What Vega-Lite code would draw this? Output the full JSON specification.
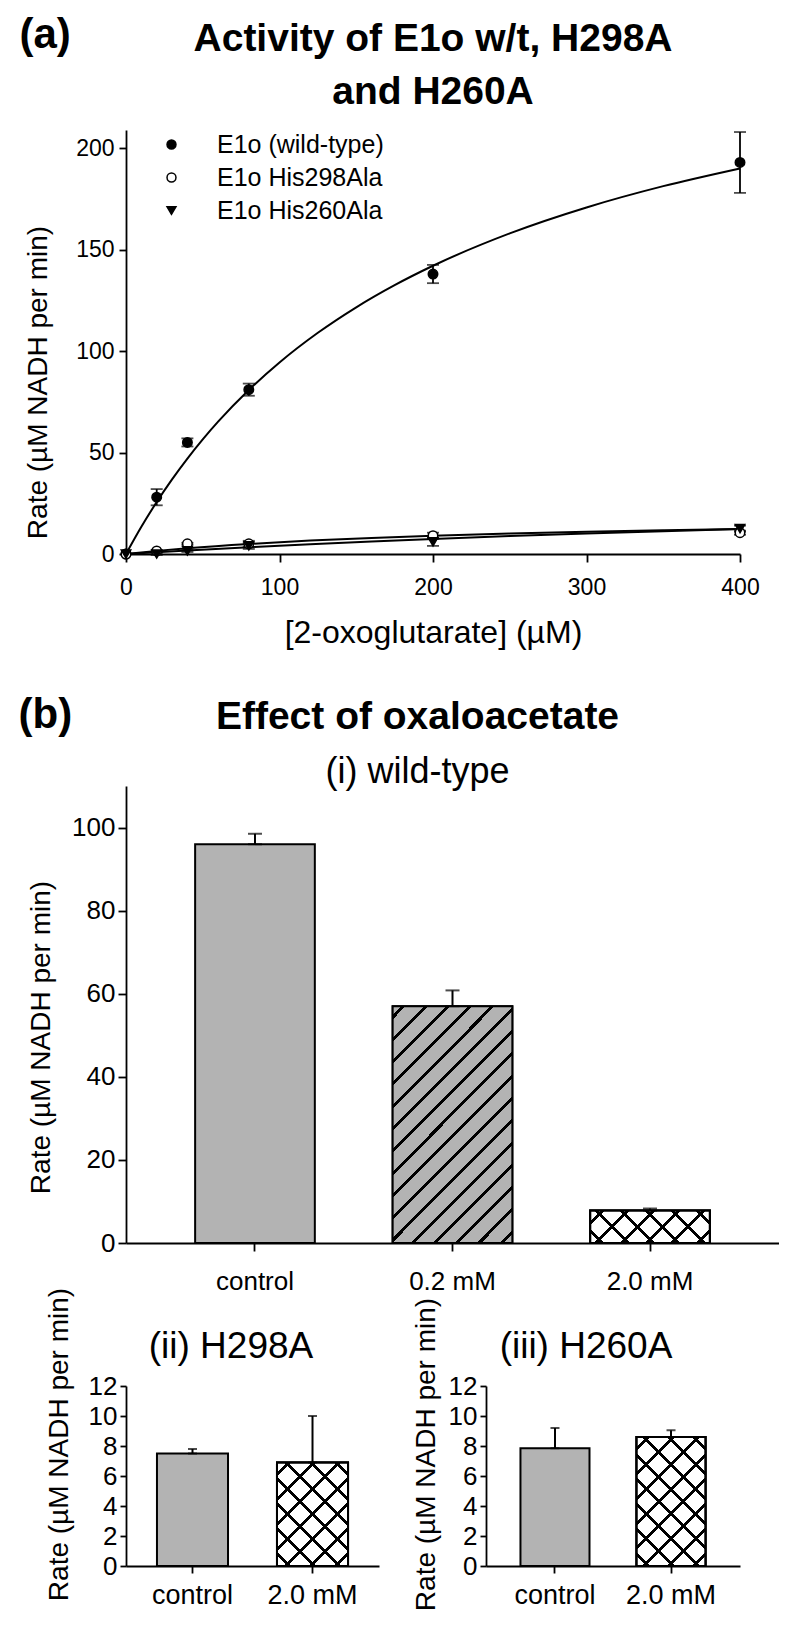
{
  "$schema": "https://vega.github.io/schema/vega-lite/v6.json",
  "background": "white",
  "padding": {"left": 18, "top": 14, "right": 0, "bottom": 0},
  "spacing": 46,
  "config": {
    "view": {"stroke": null},
    "font": "Liberation Sans",
    "axis": {"grid": false, "domainColor": "#000", "domainWidth": 1.8, "tickColor": "#000", "tickWidth": 1.8, "labelColor": "#000", "titleColor": "#000", "titleFontWeight": "normal", "labelFont": "Liberation Sans", "titleFont": "Liberation Sans", "labelFlush": false, "labelOverlap": false},
    "title": {"color": "#000", "subtitleColor": "#000", "font": "Liberation Sans", "subtitleFont": "Liberation Sans"},
    "legend": {"labelColor": "#000"}
  },
  "datasets": {
    "curves": [
      {"enzyme": "E1o (wild-type)", "conc": 0, "fit": 0},
      {"enzyme": "E1o (wild-type)", "conc": 10, "fit": 13.41},
      {"enzyme": "E1o (wild-type)", "conc": 20, "fit": 25.63},
      {"enzyme": "E1o (wild-type)", "conc": 30, "fit": 36.79},
      {"enzyme": "E1o (wild-type)", "conc": 40, "fit": 47.05},
      {"enzyme": "E1o (wild-type)", "conc": 50, "fit": 56.5},
      {"enzyme": "E1o (wild-type)", "conc": 60, "fit": 65.23},
      {"enzyme": "E1o (wild-type)", "conc": 80, "fit": 80.85},
      {"enzyme": "E1o (wild-type)", "conc": 100, "fit": 94.41},
      {"enzyme": "E1o (wild-type)", "conc": 125, "fit": 109.04},
      {"enzyme": "E1o (wild-type)", "conc": 150, "fit": 121.61},
      {"enzyme": "E1o (wild-type)", "conc": 175, "fit": 132.52},
      {"enzyme": "E1o (wild-type)", "conc": 200, "fit": 142.08},
      {"enzyme": "E1o (wild-type)", "conc": 250, "fit": 158.04},
      {"enzyme": "E1o (wild-type)", "conc": 300, "fit": 170.83},
      {"enzyme": "E1o (wild-type)", "conc": 350, "fit": 181.32},
      {"enzyme": "E1o (wild-type)", "conc": 400, "fit": 190.07},
      {"enzyme": "E1o His298Ala", "conc": 0, "fit": 0},
      {"enzyme": "E1o His298Ala", "conc": 20, "fit": 1.54},
      {"enzyme": "E1o His298Ala", "conc": 40, "fit": 2.85},
      {"enzyme": "E1o His298Ala", "conc": 80, "fit": 4.97},
      {"enzyme": "E1o His298Ala", "conc": 120, "fit": 6.61},
      {"enzyme": "E1o His298Ala", "conc": 160, "fit": 7.92},
      {"enzyme": "E1o His298Ala", "conc": 200, "fit": 8.98},
      {"enzyme": "E1o His298Ala", "conc": 250, "fit": 10.06},
      {"enzyme": "E1o His298Ala", "conc": 300, "fit": 10.94},
      {"enzyme": "E1o His298Ala", "conc": 350, "fit": 11.66},
      {"enzyme": "E1o His298Ala", "conc": 400, "fit": 12.27},
      {"enzyme": "E1o His260Ala", "conc": 0, "fit": 0},
      {"enzyme": "E1o His260Ala", "conc": 20, "fit": 0.91},
      {"enzyme": "E1o His260Ala", "conc": 40, "fit": 1.77},
      {"enzyme": "E1o His260Ala", "conc": 80, "fit": 3.38},
      {"enzyme": "E1o His260Ala", "conc": 120, "fit": 4.85},
      {"enzyme": "E1o His260Ala", "conc": 160, "fit": 6.19},
      {"enzyme": "E1o His260Ala", "conc": 200, "fit": 7.42},
      {"enzyme": "E1o His260Ala", "conc": 250, "fit": 8.82},
      {"enzyme": "E1o His260Ala", "conc": 300, "fit": 10.09},
      {"enzyme": "E1o His260Ala", "conc": 350, "fit": 11.25},
      {"enzyme": "E1o His260Ala", "conc": 400, "fit": 12.31}
    ],
    "kinetics": [
      {"enzyme": "E1o (wild-type)", "conc": 0, "rate": 0, "lo": 0, "hi": 0},
      {"enzyme": "E1o (wild-type)", "conc": 20, "rate": 28, "lo": 24, "hi": 32},
      {"enzyme": "E1o (wild-type)", "conc": 40, "rate": 55, "lo": 53, "hi": 57},
      {"enzyme": "E1o (wild-type)", "conc": 80, "rate": 81, "lo": 78, "hi": 84},
      {"enzyme": "E1o (wild-type)", "conc": 200, "rate": 138, "lo": 133.5, "hi": 142.5},
      {"enzyme": "E1o (wild-type)", "conc": 400, "rate": 193, "lo": 178, "hi": 208},
      {"enzyme": "E1o His298Ala", "conc": 0, "rate": 0, "lo": 0, "hi": 0},
      {"enzyme": "E1o His298Ala", "conc": 20, "rate": 1.5, "lo": 1, "hi": 2},
      {"enzyme": "E1o His298Ala", "conc": 40, "rate": 5, "lo": 4.5, "hi": 5.5},
      {"enzyme": "E1o His298Ala", "conc": 80, "rate": 5, "lo": 3.5, "hi": 6.5},
      {"enzyme": "E1o His298Ala", "conc": 200, "rate": 9, "lo": 7.5, "hi": 10.5},
      {"enzyme": "E1o His298Ala", "conc": 400, "rate": 10.5, "lo": 9.5, "hi": 11.5},
      {"enzyme": "E1o His260Ala", "conc": 0, "rate": 0, "lo": 0, "hi": 0},
      {"enzyme": "E1o His260Ala", "conc": 20, "rate": 0, "lo": -0.5, "hi": 0.5},
      {"enzyme": "E1o His260Ala", "conc": 40, "rate": 1.5, "lo": 1, "hi": 2},
      {"enzyme": "E1o His260Ala", "conc": 80, "rate": 4, "lo": 2.5, "hi": 5.5},
      {"enzyme": "E1o His260Ala", "conc": 200, "rate": 6, "lo": 4, "hi": 8},
      {"enzyme": "E1o His260Ala", "conc": 400, "rate": 12.5, "lo": 11, "hi": 14}
    ],
    "wt_bars": [
      {"cond": "control", "rate": 96, "hi": 98.5},
      {"cond": "0.2 mM", "rate": 57, "hi": 60.8},
      {"cond": "2.0 mM", "rate": 7.8, "hi": 8.3}
    ],
    "h298_bars": [
      {"cond": "control", "rate": 7.5, "hi": 7.8},
      {"cond": "2.0 mM", "rate": 6.9, "hi": 10.0}
    ],
    "h260_bars": [
      {"cond": "control", "rate": 7.85, "hi": 9.2},
      {"cond": "2.0 mM", "rate": 8.6, "hi": 9.05}
    ]
  },
  "vconcat": [
    {
      "title": {"text": "(a)", "anchor": "start", "frame": "bounds", "fontSize": 42, "fontWeight": "bold", "offset": -37, "dx": -4.5},
      "vconcat": [
        {
          "width": 614,
          "height": 424,
          "title": {"text": ["Activity of E1o w/t, H298A", "and H260A"], "fontSize": 39, "fontWeight": "bold", "lineHeight": 53, "offset": 18, "anchor": "middle", "frame": "group"},
          "layer": [
            {
              "data": {"name": "curves"},
              "mark": {"type": "line", "color": "#000", "strokeWidth": 2, "interpolate": "monotone"},
              "encoding": {
                "x": {"field": "conc", "type": "quantitative", "title": "[2-oxoglutarate] (µM)", "scale": {"domain": [0, 400], "nice": false},
                  "axis": {"values": [0, 100, 200, 300, 400], "title": "[2-oxoglutarate] (µM)", "titleFontSize": 32, "titleY": 78, "titleBaseline": "middle", "labelFontSize": 23, "tickSize": 8, "labelPadding": 14}},
                "y": {"field": "fit", "type": "quantitative", "title": "Rate (µM NADH per min)", "scale": {"domain": [0, 209], "nice": false},
                  "axis": {"values": [0, 50, 100, 150, 200], "title": "Rate (µM NADH per min)", "titleFontSize": 28, "titleX": -88, "titleY": 252, "titleBaseline": "middle", "titleAlign": "center", "labelFontSize": 23, "tickSize": 7, "labelPadding": 5}},
                "detail": {"field": "enzyme"}
              }
            },
            {
              "data": {"name": "kinetics"},
              "transform": [{"filter": "datum.hi > datum.lo"}],
              "mark": {"type": "errorbar", "color": "#000", "ticks": {"size": 12, "thickness": 1.8}, "rule": {"strokeWidth": 1.8}},
              "encoding": {
                "x": {"field": "conc", "type": "quantitative", "title": "[2-oxoglutarate] (µM)"},
                "y": {"field": "lo", "type": "quantitative", "title": "Rate (µM NADH per min)"},
                "y2": {"field": "hi"}
              }
            },
            {
              "data": {"name": "kinetics"},
              "mark": {"type": "point", "filled": true, "size": 90, "stroke": "#000", "strokeWidth": 1.5, "opacity": 1},
              "encoding": {
                "x": {"field": "conc", "type": "quantitative", "title": "[2-oxoglutarate] (µM)"},
                "y": {"field": "rate", "type": "quantitative", "title": "Rate (µM NADH per min)"},
                "shape": {"field": "enzyme", "type": "nominal",
                  "scale": {"domain": ["E1o (wild-type)", "E1o His298Ala", "E1o His260Ala"], "range": ["circle", "circle", "triangle-down"]},
                  "legend": {"title": null, "orient": "top-left", "offset": 2, "padding": 0, "labelFontSize": 25, "labelLimit": 400, "symbolSize": 80, "rowPadding": 7, "symbolOffset": 31, "labelOffset": 33, "symbolStrokeColor": "#000", "symbolStrokeWidth": 1.5}},
                "fill": {"field": "enzyme", "type": "nominal",
                  "scale": {"domain": ["E1o (wild-type)", "E1o His298Ala", "E1o His260Ala"], "range": ["#000", "#fff", "#000"]},
                  "legend": {"title": null, "orient": "top-left", "offset": 2, "padding": 0, "labelFontSize": 25, "labelLimit": 400, "symbolSize": 80, "rowPadding": 7, "symbolOffset": 31, "labelOffset": 33, "symbolStrokeColor": "#000", "symbolStrokeWidth": 1.5}},
                "stroke": {"field": "enzyme", "type": "nominal",
                  "scale": {"domain": ["E1o (wild-type)", "E1o His298Ala", "E1o His260Ala"], "range": ["#000", "#000", "#000"]},
                  "legend": {"title": null, "orient": "top-left", "offset": 2, "padding": 0, "labelFontSize": 25, "labelLimit": 400, "symbolSize": 80, "rowPadding": 7, "symbolOffset": 31, "labelOffset": 33, "symbolStrokeColor": "#000", "symbolStrokeWidth": 1.5}}
              }
            }
          ]
        }
      ]
    },
    {
      "title": {"text": "(b)", "anchor": "start", "frame": "bounds", "fontSize": 42, "fontWeight": "bold", "offset": -39, "dx": -8.5},
      "spacing": -7,
      "vconcat": [
        {
          "width": 653,
          "height": 457,
          "title": {"text": "Effect of oxaloacetate", "subtitle": "(i) wild-type", "fontSize": 39, "fontWeight": "bold", "subtitleFontSize": 36, "subtitlePadding": 18, "offset": -4, "dx": -35, "anchor": "middle", "frame": "group"},
          "data": {"name": "wt_bars"},
          "encoding": {
            "x": {"field": "cond", "type": "nominal", "title": null,
              "scale": {"domain": ["control", "0.2 mM", "2.0 mM"], "paddingInner": 0.394, "paddingOuter": 0.35},
              "axis": {"labelAngle": 0, "labelFontSize": 26, "tickSize": 8, "labelPadding": 17}},
            "y": {"field": "rate", "type": "quantitative", "title": "Rate (µM NADH per min)", "scale": {"domain": [0, 110], "nice": false},
              "axis": {"values": [0, 20, 40, 60, 80, 100], "title": "Rate (µM NADH per min)", "titleFontSize": 28, "titleX": -85, "titleY": 251, "titleBaseline": "middle", "titleAlign": "center", "labelFontSize": 26, "tickSize": 8, "labelPadding": 3}}
          },
          "layer": [
            {
              "mark": {"type": "bar", "fill": "#b3b3b3", "stroke": "#000", "strokeWidth": 2}
            },
            {
              "transform": [{"filter": "datum.cond === '0.2 mM'"}],
              "mark": {"type": "bar", "stroke": "#000", "strokeWidth": 2,
                "fill": {"gradient": "linear", "x1": 0, "y1": 0, "x2": 0.6075, "y2": 1.199, "stops": [
                  {"offset": 0, "color": "#b3b3b3"},
                  {"offset": 0.0256, "color": "#b3b3b3"}, {"offset": 0.0256, "color": "#000"}, {"offset": 0.0369, "color": "#000"}, {"offset": 0.0369, "color": "#b3b3b3"},
                  {"offset": 0.0881, "color": "#b3b3b3"}, {"offset": 0.0881, "color": "#000"}, {"offset": 0.0994, "color": "#000"}, {"offset": 0.0994, "color": "#b3b3b3"},
                  {"offset": 0.1506, "color": "#b3b3b3"}, {"offset": 0.1506, "color": "#000"}, {"offset": 0.1619, "color": "#000"}, {"offset": 0.1619, "color": "#b3b3b3"},
                  {"offset": 0.2131, "color": "#b3b3b3"}, {"offset": 0.2131, "color": "#000"}, {"offset": 0.2244, "color": "#000"}, {"offset": 0.2244, "color": "#b3b3b3"},
                  {"offset": 0.2756, "color": "#b3b3b3"}, {"offset": 0.2756, "color": "#000"}, {"offset": 0.2869, "color": "#000"}, {"offset": 0.2869, "color": "#b3b3b3"},
                  {"offset": 0.3381, "color": "#b3b3b3"}, {"offset": 0.3381, "color": "#000"}, {"offset": 0.3494, "color": "#000"}, {"offset": 0.3494, "color": "#b3b3b3"},
                  {"offset": 0.4006, "color": "#b3b3b3"}, {"offset": 0.4006, "color": "#000"}, {"offset": 0.4119, "color": "#000"}, {"offset": 0.4119, "color": "#b3b3b3"},
                  {"offset": 0.4631, "color": "#b3b3b3"}, {"offset": 0.4631, "color": "#000"}, {"offset": 0.4744, "color": "#000"}, {"offset": 0.4744, "color": "#b3b3b3"},
                  {"offset": 0.5256, "color": "#b3b3b3"}, {"offset": 0.5256, "color": "#000"}, {"offset": 0.5369, "color": "#000"}, {"offset": 0.5369, "color": "#b3b3b3"},
                  {"offset": 0.5881, "color": "#b3b3b3"}, {"offset": 0.5881, "color": "#000"}, {"offset": 0.5994, "color": "#000"}, {"offset": 0.5994, "color": "#b3b3b3"},
                  {"offset": 0.6506, "color": "#b3b3b3"}, {"offset": 0.6506, "color": "#000"}, {"offset": 0.6619, "color": "#000"}, {"offset": 0.6619, "color": "#b3b3b3"},
                  {"offset": 0.7131, "color": "#b3b3b3"}, {"offset": 0.7131, "color": "#000"}, {"offset": 0.7244, "color": "#000"}, {"offset": 0.7244, "color": "#b3b3b3"},
                  {"offset": 0.7756, "color": "#b3b3b3"}, {"offset": 0.7756, "color": "#000"}, {"offset": 0.7869, "color": "#000"}, {"offset": 0.7869, "color": "#b3b3b3"},
                  {"offset": 0.8381, "color": "#b3b3b3"}, {"offset": 0.8381, "color": "#000"}, {"offset": 0.8494, "color": "#000"}, {"offset": 0.8494, "color": "#b3b3b3"},
                  {"offset": 0.9006, "color": "#b3b3b3"}, {"offset": 0.9006, "color": "#000"}, {"offset": 0.9119, "color": "#000"}, {"offset": 0.9119, "color": "#b3b3b3"},
                  {"offset": 0.9631, "color": "#b3b3b3"}, {"offset": 0.9631, "color": "#000"}, {"offset": 0.9744, "color": "#000"}, {"offset": 0.9744, "color": "#b3b3b3"},
                  {"offset": 1, "color": "#b3b3b3"}
                ]}}
            },
            {
              "transform": [{"filter": "datum.cond === '2.0 mM'"}],
              "mark": {"type": "bar", "stroke": "#000", "strokeWidth": 2,
                "fill": {"gradient": "linear", "x1": 0, "y1": 0, "x2": 1.1839, "y2": 0.3205, "stops": [
                  {"offset": 0, "color": "#fff"},
                  {"offset": 0.0702, "color": "#fff"}, {"offset": 0.0702, "color": "#000"}, {"offset": 0.0964, "color": "#000"}, {"offset": 0.0964, "color": "#fff"},
                  {"offset": 0.2369, "color": "#fff"}, {"offset": 0.2369, "color": "#000"}, {"offset": 0.2631, "color": "#000"}, {"offset": 0.2631, "color": "#fff"},
                  {"offset": 0.4036, "color": "#fff"}, {"offset": 0.4036, "color": "#000"}, {"offset": 0.4298, "color": "#000"}, {"offset": 0.4298, "color": "#fff"},
                  {"offset": 0.5702, "color": "#fff"}, {"offset": 0.5702, "color": "#000"}, {"offset": 0.5964, "color": "#000"}, {"offset": 0.5964, "color": "#fff"},
                  {"offset": 0.7369, "color": "#fff"}, {"offset": 0.7369, "color": "#000"}, {"offset": 0.7631, "color": "#000"}, {"offset": 0.7631, "color": "#fff"},
                  {"offset": 0.9036, "color": "#fff"}, {"offset": 0.9036, "color": "#000"}, {"offset": 0.9298, "color": "#000"}, {"offset": 0.9298, "color": "#fff"},
                  {"offset": 1, "color": "#fff"}
                ]}}
            },
            {
              "transform": [{"filter": "datum.cond === '2.0 mM'"}],
              "mark": {"type": "bar", "stroke": "#000", "strokeWidth": 2,
                "fill": {"gradient": "linear", "x1": 1, "y1": 0, "x2": -0.1839, "y2": 0.3205, "stops": [
                  {"offset": 0, "color": "rgba(0,0,0,0)"},
                  {"offset": 0.0702, "color": "rgba(0,0,0,0)"}, {"offset": 0.0702, "color": "#000"}, {"offset": 0.0964, "color": "#000"}, {"offset": 0.0964, "color": "rgba(0,0,0,0)"},
                  {"offset": 0.2369, "color": "rgba(0,0,0,0)"}, {"offset": 0.2369, "color": "#000"}, {"offset": 0.2631, "color": "#000"}, {"offset": 0.2631, "color": "rgba(0,0,0,0)"},
                  {"offset": 0.4036, "color": "rgba(0,0,0,0)"}, {"offset": 0.4036, "color": "#000"}, {"offset": 0.4298, "color": "#000"}, {"offset": 0.4298, "color": "rgba(0,0,0,0)"},
                  {"offset": 0.5702, "color": "rgba(0,0,0,0)"}, {"offset": 0.5702, "color": "#000"}, {"offset": 0.5964, "color": "#000"}, {"offset": 0.5964, "color": "rgba(0,0,0,0)"},
                  {"offset": 0.7369, "color": "rgba(0,0,0,0)"}, {"offset": 0.7369, "color": "#000"}, {"offset": 0.7631, "color": "#000"}, {"offset": 0.7631, "color": "rgba(0,0,0,0)"},
                  {"offset": 0.9036, "color": "rgba(0,0,0,0)"}, {"offset": 0.9036, "color": "#000"}, {"offset": 0.9298, "color": "#000"}, {"offset": 0.9298, "color": "rgba(0,0,0,0)"},
                  {"offset": 1, "color": "rgba(0,0,0,0)"}
                ]}}
            },
            {
              "mark": {"type": "errorbar", "color": "#000", "ticks": {"size": 14, "thickness": 2}, "rule": {"strokeWidth": 2}},
              "encoding": {"y2": {"field": "hi"}}
            }
          ]
        },
        {
          "spacing": 32,
          "hconcat": [
            {
              "width": 253,
              "height": 180,
              "title": {"text": "(ii) H298A", "fontSize": 37, "fontWeight": "normal", "offset": -79, "dx": -21.5, "anchor": "middle", "frame": "group"},
              "data": {"name": "h298_bars"},
              "encoding": {
                "x": {"field": "cond", "type": "nominal", "title": null,
                  "scale": {"domain": ["control", "2.0 mM"], "paddingInner": 0.408, "paddingOuter": 0.258},
                  "axis": {"labelAngle": 0, "labelFontSize": 27, "tickSize": 7, "labelPadding": 9}},
                "y": {"field": "rate", "type": "quantitative", "title": "Rate (µM NADH per min)", "scale": {"domain": [0, 12], "nice": false},
                  "axis": {"values": [0, 2, 4, 6, 8, 10, 12], "labelOverlap": false, "labelSeparation": -30, "title": "Rate (µM NADH per min)", "titleFontSize": 28, "titleX": -67, "titleY": 58, "titleBaseline": "middle", "titleAlign": "center", "labelFontSize": 26, "tickSize": 6, "labelPadding": 3}}
              },
              "layer": [
                {
                  "mark": {"type": "bar", "fill": "#b3b3b3", "stroke": "#000", "strokeWidth": 2}
                },
                {
                  "transform": [{"filter": "datum.cond === '2.0 mM'"}],
                  "mark": {"type": "bar", "stroke": "#000", "strokeWidth": 2,
                    "fill": {"gradient": "linear", "x1": 0, "y1": 0, "x2": 0.7865, "y2": 1.1465, "stops": [
                      {"offset": 0, "color": "#fff"},
                      {"offset": 0.06, "color": "#fff"}, {"offset": 0.06, "color": "#000"}, {"offset": 0.0829, "color": "#000"}, {"offset": 0.0829, "color": "#fff"},
                      {"offset": 0.2028, "color": "#fff"}, {"offset": 0.2028, "color": "#000"}, {"offset": 0.2258, "color": "#000"}, {"offset": 0.2258, "color": "#fff"},
                      {"offset": 0.3457, "color": "#fff"}, {"offset": 0.3457, "color": "#000"}, {"offset": 0.3686, "color": "#000"}, {"offset": 0.3686, "color": "#fff"},
                      {"offset": 0.4885, "color": "#fff"}, {"offset": 0.4885, "color": "#000"}, {"offset": 0.5115, "color": "#000"}, {"offset": 0.5115, "color": "#fff"},
                      {"offset": 0.6314, "color": "#fff"}, {"offset": 0.6314, "color": "#000"}, {"offset": 0.6543, "color": "#000"}, {"offset": 0.6543, "color": "#fff"},
                      {"offset": 0.7742, "color": "#fff"}, {"offset": 0.7742, "color": "#000"}, {"offset": 0.7972, "color": "#000"}, {"offset": 0.7972, "color": "#fff"},
                      {"offset": 0.9171, "color": "#fff"}, {"offset": 0.9171, "color": "#000"}, {"offset": 0.94, "color": "#000"}, {"offset": 0.94, "color": "#fff"},
                      {"offset": 1, "color": "#fff"}
                    ]}}
                },
                {
                  "transform": [{"filter": "datum.cond === '2.0 mM'"}],
                  "mark": {"type": "bar", "stroke": "#000", "strokeWidth": 2,
                    "fill": {"gradient": "linear", "x1": 1, "y1": 0, "x2": 0.2135, "y2": 1.1465, "stops": [
                      {"offset": 0, "color": "rgba(0,0,0,0)"},
                      {"offset": 0.06, "color": "rgba(0,0,0,0)"}, {"offset": 0.06, "color": "#000"}, {"offset": 0.0829, "color": "#000"}, {"offset": 0.0829, "color": "rgba(0,0,0,0)"},
                      {"offset": 0.2028, "color": "rgba(0,0,0,0)"}, {"offset": 0.2028, "color": "#000"}, {"offset": 0.2258, "color": "#000"}, {"offset": 0.2258, "color": "rgba(0,0,0,0)"},
                      {"offset": 0.3457, "color": "rgba(0,0,0,0)"}, {"offset": 0.3457, "color": "#000"}, {"offset": 0.3686, "color": "#000"}, {"offset": 0.3686, "color": "rgba(0,0,0,0)"},
                      {"offset": 0.4885, "color": "rgba(0,0,0,0)"}, {"offset": 0.4885, "color": "#000"}, {"offset": 0.5115, "color": "#000"}, {"offset": 0.5115, "color": "rgba(0,0,0,0)"},
                      {"offset": 0.6314, "color": "rgba(0,0,0,0)"}, {"offset": 0.6314, "color": "#000"}, {"offset": 0.6543, "color": "#000"}, {"offset": 0.6543, "color": "rgba(0,0,0,0)"},
                      {"offset": 0.7742, "color": "rgba(0,0,0,0)"}, {"offset": 0.7742, "color": "#000"}, {"offset": 0.7972, "color": "#000"}, {"offset": 0.7972, "color": "rgba(0,0,0,0)"},
                      {"offset": 0.9171, "color": "rgba(0,0,0,0)"}, {"offset": 0.9171, "color": "#000"}, {"offset": 0.94, "color": "#000"}, {"offset": 0.94, "color": "rgba(0,0,0,0)"},
                      {"offset": 1, "color": "rgba(0,0,0,0)"}
                    ]}}
                },
                {
                  "mark": {"type": "errorbar", "color": "#000", "ticks": {"size": 9, "thickness": 2}, "rule": {"strokeWidth": 2}},
                  "encoding": {"y2": {"field": "hi"}}
                }
              ]
            },
            {
              "width": 254,
              "height": 180,
              "title": {"text": "(iii) H260A", "fontSize": 37, "fontWeight": "normal", "offset": -69, "dx": -27, "anchor": "middle", "frame": "group"},
              "data": {"name": "h260_bars"},
              "encoding": {
                "x": {"field": "cond", "type": "nominal", "title": null,
                  "scale": {"domain": ["control", "2.0 mM"], "paddingInner": 0.405, "paddingOuter": 0.297},
                  "axis": {"labelAngle": 0, "labelFontSize": 27, "tickSize": 7, "labelPadding": 9}},
                "y": {"field": "rate", "type": "quantitative", "title": "Rate (µM NADH per min)", "scale": {"domain": [0, 12], "nice": false},
                  "axis": {"values": [0, 2, 4, 6, 8, 10, 12], "labelOverlap": false, "labelSeparation": -30, "title": "Rate (µM NADH per min)", "titleFontSize": 28, "titleX": -60, "titleY": 68, "titleBaseline": "middle", "titleAlign": "center", "labelFontSize": 26, "tickSize": 6, "labelPadding": 3}}
              },
              "layer": [
                {
                  "mark": {"type": "bar", "fill": "#b3b3b3", "stroke": "#000", "strokeWidth": 2}
                },
                {
                  "transform": [{"filter": "datum.cond === '2.0 mM'"}],
                  "mark": {"type": "bar", "stroke": "#000", "strokeWidth": 2,
                    "fill": {"gradient": "linear", "x1": 0, "y1": 0, "x2": 0.6383, "y2": 1.1934, "stops": [
                      {"offset": 0, "color": "#fff"},
                      {"offset": 0.0524, "color": "#fff"}, {"offset": 0.0524, "color": "#000"}, {"offset": 0.0726, "color": "#000"}, {"offset": 0.0726, "color": "#fff"},
                      {"offset": 0.1774, "color": "#fff"}, {"offset": 0.1774, "color": "#000"}, {"offset": 0.1976, "color": "#000"}, {"offset": 0.1976, "color": "#fff"},
                      {"offset": 0.3024, "color": "#fff"}, {"offset": 0.3024, "color": "#000"}, {"offset": 0.3226, "color": "#000"}, {"offset": 0.3226, "color": "#fff"},
                      {"offset": 0.4274, "color": "#fff"}, {"offset": 0.4274, "color": "#000"}, {"offset": 0.4476, "color": "#000"}, {"offset": 0.4476, "color": "#fff"},
                      {"offset": 0.5524, "color": "#fff"}, {"offset": 0.5524, "color": "#000"}, {"offset": 0.5726, "color": "#000"}, {"offset": 0.5726, "color": "#fff"},
                      {"offset": 0.6774, "color": "#fff"}, {"offset": 0.6774, "color": "#000"}, {"offset": 0.6976, "color": "#000"}, {"offset": 0.6976, "color": "#fff"},
                      {"offset": 0.8024, "color": "#fff"}, {"offset": 0.8024, "color": "#000"}, {"offset": 0.8226, "color": "#000"}, {"offset": 0.8226, "color": "#fff"},
                      {"offset": 0.9274, "color": "#fff"}, {"offset": 0.9274, "color": "#000"}, {"offset": 0.9476, "color": "#000"}, {"offset": 0.9476, "color": "#fff"},
                      {"offset": 1, "color": "#fff"}
                    ]}}
                },
                {
                  "transform": [{"filter": "datum.cond === '2.0 mM'"}],
                  "mark": {"type": "bar", "stroke": "#000", "strokeWidth": 2,
                    "fill": {"gradient": "linear", "x1": 1, "y1": 0, "x2": 0.3617, "y2": 1.1934, "stops": [
                      {"offset": 0, "color": "rgba(0,0,0,0)"},
                      {"offset": 0.0524, "color": "rgba(0,0,0,0)"}, {"offset": 0.0524, "color": "#000"}, {"offset": 0.0726, "color": "#000"}, {"offset": 0.0726, "color": "rgba(0,0,0,0)"},
                      {"offset": 0.1774, "color": "rgba(0,0,0,0)"}, {"offset": 0.1774, "color": "#000"}, {"offset": 0.1976, "color": "#000"}, {"offset": 0.1976, "color": "rgba(0,0,0,0)"},
                      {"offset": 0.3024, "color": "rgba(0,0,0,0)"}, {"offset": 0.3024, "color": "#000"}, {"offset": 0.3226, "color": "#000"}, {"offset": 0.3226, "color": "rgba(0,0,0,0)"},
                      {"offset": 0.4274, "color": "rgba(0,0,0,0)"}, {"offset": 0.4274, "color": "#000"}, {"offset": 0.4476, "color": "#000"}, {"offset": 0.4476, "color": "rgba(0,0,0,0)"},
                      {"offset": 0.5524, "color": "rgba(0,0,0,0)"}, {"offset": 0.5524, "color": "#000"}, {"offset": 0.5726, "color": "#000"}, {"offset": 0.5726, "color": "rgba(0,0,0,0)"},
                      {"offset": 0.6774, "color": "rgba(0,0,0,0)"}, {"offset": 0.6774, "color": "#000"}, {"offset": 0.6976, "color": "#000"}, {"offset": 0.6976, "color": "rgba(0,0,0,0)"},
                      {"offset": 0.8024, "color": "rgba(0,0,0,0)"}, {"offset": 0.8024, "color": "#000"}, {"offset": 0.8226, "color": "#000"}, {"offset": 0.8226, "color": "rgba(0,0,0,0)"},
                      {"offset": 0.9274, "color": "rgba(0,0,0,0)"}, {"offset": 0.9274, "color": "#000"}, {"offset": 0.9476, "color": "#000"}, {"offset": 0.9476, "color": "rgba(0,0,0,0)"},
                      {"offset": 1, "color": "rgba(0,0,0,0)"}
                    ]}}
                },
                {
                  "mark": {"type": "errorbar", "color": "#000", "ticks": {"size": 9, "thickness": 2}, "rule": {"strokeWidth": 2}},
                  "encoding": {"y2": {"field": "hi"}}
                }
              ]
            }
          ]
        }
      ]
    }
  ]
}
